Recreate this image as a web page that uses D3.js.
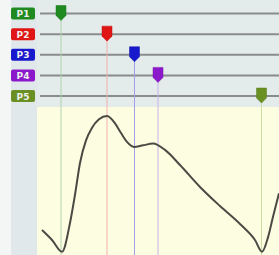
<!DOCTYPE html>
<html><head><meta charset="utf-8">
<script src="https://cdn.jsdelivr.net/npm/d3@7/dist/d3.min.js"></script>
<style>html,body{margin:0;padding:0;background:#f4f5f5;}svg{display:block;}</style>
</head><body>
<svg id="c" width="279" height="255"></svg>
<script>
// Waveform samples (time units, amplitude units)
const times  = [5, 15, 25, 33, 38, 43, 49, 55, 62, 70, 78, 84, 90, 97, 106, 116, 128, 143, 163, 183, 203, 218, 225, 231, 236, 242];
const values = [17, 10.2, 2.2, 21.8, 41, 62.6, 78, 86.5, 92.3, 94.5, 89.5, 83, 76.9, 73.5, 74.6, 75.8, 71.5, 61.2, 46.3, 33.3, 21.1, 10.2, 2.2, 12, 26, 42];
// Pointer labels and positions (time units)
const pointerLabels = ["P1", "P2", "P3", "P4", "P5"];
const pointerTimes  = [24, 70, 97.5, 121, 224.5];
const pointerColors = ["#1f8a1f", "#e01515", "#1818cc", "#8c18cc", "#6a8f22"];
const lineColors    = ["#b0d4b0", "#f2b0b0", "#a0a0e8", "#cbb0e8", "#cadea4"];

const svg = d3.select("#c");
const W = 279, H = 255;
const plotLeft = 37, plotTop = 107;

const x = d3.scaleLinear().domain([0, 242]).range([plotLeft, W]);
const y = d3.scaleLinear().domain([0, 100]).range([H, plotTop + 1]);
const rowY = d3.scalePoint().domain(pointerLabels).range([13.5, 96]);

// backgrounds
svg.append("rect").attr("x", 11).attr("y", 0).attr("width", 26).attr("height", H).attr("fill", "#e1e8ec");
svg.append("rect").attr("x", plotLeft).attr("y", 0).attr("width", W - plotLeft).attr("height", plotTop).attr("fill", "#e3ecea");
svg.append("rect").attr("x", plotLeft).attr("y", plotTop).attr("width", W - plotLeft).attr("height", H - plotTop).attr("fill", "#fdfde2");

// horizontal rails
pointerLabels.forEach((p) => {
  svg.append("line").attr("x1", 40).attr("x2", W).attr("y1", rowY(p)).attr("y2", rowY(p))
    .attr("stroke", "#8a8c8c").attr("stroke-width", 2);
});

// vertical lines
pointerLabels.forEach((p, i) => {
  svg.append("line").attr("x1", x(pointerTimes[i])).attr("x2", x(pointerTimes[i]))
    .attr("y1", rowY(p)).attr("y2", H)
    .attr("stroke", lineColors[i]).attr("stroke-width", 1);
});

// curve
const line = d3.line().x((d, i) => x(times[i])).y((d) => y(d)).curve(d3.curveMonotoneX);
svg.append("path").attr("d", line(values)).attr("fill", "none")
  .attr("stroke", "#4a4a44").attr("stroke-width", 2).attr("stroke-linejoin", "round");

// label boxes
pointerLabels.forEach((p, i) => {
  const cy = rowY(p);
  svg.append("rect").attr("x", 11).attr("y", cy - 6).attr("width", 24).attr("height", 12)
    .attr("rx", 2).attr("fill", pointerColors[i]);
  svg.append("text").attr("x", 23).attr("y", cy + 3.5).attr("text-anchor", "middle")
    .attr("font-family", "DejaVu Sans, sans-serif").attr("font-size", 9).attr("font-weight", "bold")
    .attr("fill", "#f0f0f0").text(p);
});

// markers (pentagon pointing down)
pointerLabels.forEach((p, i) => {
  const cx = x(pointerTimes[i]), cy = rowY(p);
  const w = 5, top = cy - 8, mid = cy + 2, bot = cy + 7;
  const pts = [[cx - w, top], [cx + w, top], [cx + w, mid], [cx, bot], [cx - w, mid]];
  svg.append("path").attr("d", "M" + pts.map(q => q.join(",")).join("L") + "Z")
    .attr("fill", pointerColors[i]).attr("stroke", d3.color(pointerColors[i]).darker(0.4)).attr("stroke-width", 0.5);
});
</script>
</body></html>
